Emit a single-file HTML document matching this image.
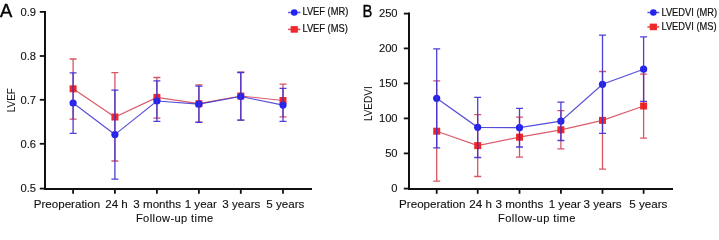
<!DOCTYPE html>
<html><head><meta charset="utf-8"><style>
html,body{margin:0;padding:0;background:#fff;width:719px;height:227px;overflow:hidden}
svg{display:block;will-change:transform}
</style></head><body>
<svg width="719" height="227" viewBox="0 0 719 227" font-family='"Liberation Sans", sans-serif' fill="#111" stroke-width="0.12">
<rect width="719" height="227" fill="#fff"/>
<path d="M45.0 10.9V190.0M44.0 189.0H312" stroke="#111" stroke-width="2" fill="none"/>
<path d="M39.8 11.9H45.0" stroke="#111" stroke-width="1.8"/>
<path d="M39.8 56.0H45.0" stroke="#111" stroke-width="1.8"/>
<path d="M39.8 99.8H45.0" stroke="#111" stroke-width="1.8"/>
<path d="M39.8 143.8H45.0" stroke="#111" stroke-width="1.8"/>
<path d="M39.8 188.6H45.0" stroke="#111" stroke-width="1.8"/>
<path d="M73.1 189.0V193.8" stroke="#111" stroke-width="1.8"/>
<path d="M114.9 189.0V193.8" stroke="#111" stroke-width="1.8"/>
<path d="M156.9 189.0V193.8" stroke="#111" stroke-width="1.8"/>
<path d="M198.9 189.0V193.8" stroke="#111" stroke-width="1.8"/>
<path d="M240.8 189.0V193.8" stroke="#111" stroke-width="1.8"/>
<path d="M283.0 189.0V193.8" stroke="#111" stroke-width="1.8"/>
<text transform="translate(36.1 15.65) scale(0.95 1)" font-size="11.8" text-anchor="end" stroke="#111">0.9</text>
<text transform="translate(36.1 59.75) scale(0.95 1)" font-size="11.8" text-anchor="end" stroke="#111">0.8</text>
<text transform="translate(36.1 103.55) scale(0.95 1)" font-size="11.8" text-anchor="end" stroke="#111">0.7</text>
<text transform="translate(36.1 147.55) scale(0.95 1)" font-size="11.8" text-anchor="end" stroke="#111">0.6</text>
<text transform="translate(36.1 192.35) scale(0.95 1)" font-size="11.8" text-anchor="end" stroke="#111">0.5</text>
<path d="M409.0 12.6V190.0M408.0 189.0H673" stroke="#111" stroke-width="2" fill="none"/>
<path d="M403.8 13.6H409.0" stroke="#111" stroke-width="1.8"/>
<path d="M403.8 48.4H409.0" stroke="#111" stroke-width="1.8"/>
<path d="M403.8 83.4H409.0" stroke="#111" stroke-width="1.8"/>
<path d="M403.8 118.4H409.0" stroke="#111" stroke-width="1.8"/>
<path d="M403.8 153.4H409.0" stroke="#111" stroke-width="1.8"/>
<path d="M403.8 188.6H409.0" stroke="#111" stroke-width="1.8"/>
<path d="M436.7 189.0V193.8" stroke="#111" stroke-width="1.8"/>
<path d="M477.7 189.0V193.8" stroke="#111" stroke-width="1.8"/>
<path d="M519.5 189.0V193.8" stroke="#111" stroke-width="1.8"/>
<path d="M560.9 189.0V193.8" stroke="#111" stroke-width="1.8"/>
<path d="M602.5 189.0V193.8" stroke="#111" stroke-width="1.8"/>
<path d="M643.6 189.0V193.8" stroke="#111" stroke-width="1.8"/>
<text transform="translate(397.6 17.35) scale(0.95 1)" font-size="11.8" text-anchor="end" stroke="#111">250</text>
<text transform="translate(397.6 52.15) scale(0.95 1)" font-size="11.8" text-anchor="end" stroke="#111">200</text>
<text transform="translate(397.6 87.15) scale(0.95 1)" font-size="11.8" text-anchor="end" stroke="#111">150</text>
<text transform="translate(397.6 122.15) scale(0.95 1)" font-size="11.8" text-anchor="end" stroke="#111">100</text>
<text transform="translate(397.6 157.15) scale(0.95 1)" font-size="11.8" text-anchor="end" stroke="#111">50</text>
<text transform="translate(397.6 192.35) scale(0.95 1)" font-size="11.8" text-anchor="end" stroke="#111">0</text>
<text x="66.9" y="207.7" font-size="11.6" text-anchor="middle" stroke="#111" >Preoperation</text>
<text x="116.5" y="207.7" font-size="11.6" text-anchor="middle" stroke="#111" >24 h</text>
<text x="157.2" y="207.7" font-size="11.6" text-anchor="middle" stroke="#111" >3 months</text>
<text x="200.8" y="207.7" font-size="11.6" text-anchor="middle" stroke="#111" >1 year</text>
<text x="241.3" y="207.7" font-size="11.6" text-anchor="middle" stroke="#111" >3 years</text>
<text x="285.3" y="207.7" font-size="11.6" text-anchor="middle" stroke="#111" >5 years</text>
<text x="174.8" y="222.1" font-size="11.1" text-anchor="middle" stroke="#111" letter-spacing="0.4">Follow-up time</text>
<text x="432.3" y="207.7" font-size="11.6" text-anchor="middle" stroke="#111" >Preoperation</text>
<text x="480.6" y="207.7" font-size="11.6" text-anchor="middle" stroke="#111" >24 h</text>
<text x="519.4" y="207.7" font-size="11.6" text-anchor="middle" stroke="#111" >3 months</text>
<text x="564.8" y="207.7" font-size="11.6" text-anchor="middle" stroke="#111" >1 year</text>
<text x="602.6" y="207.7" font-size="11.6" text-anchor="middle" stroke="#111" >3 years</text>
<text x="648.3" y="207.7" font-size="11.6" text-anchor="middle" stroke="#111" >5 years</text>
<text x="536.9" y="222.1" font-size="11.1" text-anchor="middle" stroke="#111" letter-spacing="0.4">Follow-up time</text>
<text transform="translate(14.9 100.2) rotate(-90)" font-size="10" text-anchor="middle">LVEF</text>
<text transform="translate(371.5 103.7) rotate(-90)" font-size="10" text-anchor="middle">LVEDVI</text>
<text transform="translate(0.1 16.7) scale(1.03 1)" font-size="17.9" fill="#000" stroke="#000" stroke-width="0.4">A</text>
<text transform="translate(362.4 16.6) scale(0.87 1)" font-size="17" fill="#000" stroke="#000" stroke-width="0.35">B</text>
<polyline points="73.1,88.8 114.9,117.0 156.9,97.4 198.9,103.7 240.8,96.0 283.0,100.5" fill="none" stroke="#cc1e32" stroke-opacity="0.72" stroke-width="1.2"/>
<rect x="69.6" y="85.3" width="7" height="7" fill="#f02828"/>
<rect x="111.4" y="113.5" width="7" height="7" fill="#f02828"/>
<rect x="153.4" y="93.9" width="7" height="7" fill="#f02828"/>
<rect x="195.4" y="100.2" width="7" height="7" fill="#f02828"/>
<rect x="237.3" y="92.5" width="7" height="7" fill="#f02828"/>
<rect x="279.5" y="97.0" width="7" height="7" fill="#f02828"/>
<path d="M73.1 59.0V119.2M69.6 59.0H76.6M69.6 119.2H76.6" stroke="#c81e32" stroke-opacity="0.75" stroke-width="1.3" fill="none"/>
<path d="M114.9 72.7V161.0M111.4 72.7H118.4M111.4 161.0H118.4" stroke="#c81e32" stroke-opacity="0.75" stroke-width="1.3" fill="none"/>
<path d="M156.9 77.5V118.1M153.4 77.5H160.4M153.4 118.1H160.4" stroke="#c81e32" stroke-opacity="0.75" stroke-width="1.3" fill="none"/>
<path d="M198.9 84.8V122.2M195.4 84.8H202.4M195.4 122.2H202.4" stroke="#c81e32" stroke-opacity="0.75" stroke-width="1.3" fill="none"/>
<path d="M240.8 72.2V120.1M237.3 72.2H244.3M237.3 120.1H244.3" stroke="#c81e32" stroke-opacity="0.75" stroke-width="1.3" fill="none"/>
<path d="M283.0 84.2V116.9M279.5 84.2H286.5M279.5 116.9H286.5" stroke="#c81e32" stroke-opacity="0.75" stroke-width="1.3" fill="none"/>
<polyline points="73.1,103.0 114.9,134.6 156.9,101.0 198.9,104.2 240.8,96.5 283.0,105.1" fill="none" stroke="#3a30d0" stroke-opacity="0.85" stroke-width="1.2"/>
<circle cx="73.1" cy="103.0" r="3.6" fill="#2323f0"/>
<circle cx="114.9" cy="134.6" r="3.6" fill="#2323f0"/>
<circle cx="156.9" cy="101.0" r="3.6" fill="#2323f0"/>
<circle cx="198.9" cy="104.2" r="3.6" fill="#2323f0"/>
<circle cx="240.8" cy="96.5" r="3.6" fill="#2323f0"/>
<circle cx="283.0" cy="105.1" r="3.6" fill="#2323f0"/>
<path d="M73.1 72.9V133.3M69.6 72.9H76.6M69.6 133.3H76.6" stroke="#3c30d4" stroke-opacity="0.92" stroke-width="1.3" fill="none"/>
<path d="M114.9 90.1V179.1M111.4 90.1H118.4M111.4 179.1H118.4" stroke="#3c30d4" stroke-opacity="0.92" stroke-width="1.3" fill="none"/>
<path d="M156.9 80.8V121.4M153.4 80.8H160.4M153.4 121.4H160.4" stroke="#3c30d4" stroke-opacity="0.92" stroke-width="1.3" fill="none"/>
<path d="M198.9 86.1V122.3M195.4 86.1H202.4M195.4 122.3H202.4" stroke="#3c30d4" stroke-opacity="0.92" stroke-width="1.3" fill="none"/>
<path d="M240.8 72.5V120.2M237.3 72.5H244.3M237.3 120.2H244.3" stroke="#3c30d4" stroke-opacity="0.92" stroke-width="1.3" fill="none"/>
<path d="M283.0 88.4V121.4M279.5 88.4H286.5M279.5 121.4H286.5" stroke="#3c30d4" stroke-opacity="0.92" stroke-width="1.3" fill="none"/>
<polyline points="436.7,131.2 477.7,145.6 519.5,137.2 560.9,129.8 602.5,120.4 643.6,106.0" fill="none" stroke="#cc1e32" stroke-opacity="0.72" stroke-width="1.2"/>
<rect x="433.2" y="127.7" width="7" height="7" fill="#f02828"/>
<rect x="474.2" y="142.1" width="7" height="7" fill="#f02828"/>
<rect x="516.0" y="133.7" width="7" height="7" fill="#f02828"/>
<rect x="557.4" y="126.3" width="7" height="7" fill="#f02828"/>
<rect x="599.0" y="116.9" width="7" height="7" fill="#f02828"/>
<rect x="640.1" y="102.5" width="7" height="7" fill="#f02828"/>
<path d="M436.7 80.9V181.1M433.2 80.9H440.2M433.2 181.1H440.2" stroke="#c81e32" stroke-opacity="0.75" stroke-width="1.3" fill="none"/>
<path d="M477.7 114.7V176.5M474.2 114.7H481.2M474.2 176.5H481.2" stroke="#c81e32" stroke-opacity="0.75" stroke-width="1.3" fill="none"/>
<path d="M519.5 117.2V157.2M516.0 117.2H523.0M516.0 157.2H523.0" stroke="#c81e32" stroke-opacity="0.75" stroke-width="1.3" fill="none"/>
<path d="M560.9 110.6V148.9M557.4 110.6H564.4M557.4 148.9H564.4" stroke="#c81e32" stroke-opacity="0.75" stroke-width="1.3" fill="none"/>
<path d="M602.5 71.5V169.1M599.0 71.5H606.0M599.0 169.1H606.0" stroke="#c81e32" stroke-opacity="0.75" stroke-width="1.3" fill="none"/>
<path d="M643.6 74.1V138.1M640.1 74.1H647.1M640.1 138.1H647.1" stroke="#c81e32" stroke-opacity="0.75" stroke-width="1.3" fill="none"/>
<polyline points="436.7,98.3 477.7,127.3 519.5,127.7 560.9,121.2 602.5,84.3 643.6,69.2" fill="none" stroke="#3a30d0" stroke-opacity="0.85" stroke-width="1.2"/>
<circle cx="436.7" cy="98.3" r="3.6" fill="#2323f0"/>
<circle cx="477.7" cy="127.3" r="3.6" fill="#2323f0"/>
<circle cx="519.5" cy="127.7" r="3.6" fill="#2323f0"/>
<circle cx="560.9" cy="121.2" r="3.6" fill="#2323f0"/>
<circle cx="602.5" cy="84.3" r="3.6" fill="#2323f0"/>
<circle cx="643.6" cy="69.2" r="3.6" fill="#2323f0"/>
<path d="M436.7 48.8V147.8M433.2 48.8H440.2M433.2 147.8H440.2" stroke="#3c30d4" stroke-opacity="0.92" stroke-width="1.3" fill="none"/>
<path d="M477.7 97.4V157.5M474.2 97.4H481.2M474.2 157.5H481.2" stroke="#3c30d4" stroke-opacity="0.92" stroke-width="1.3" fill="none"/>
<path d="M519.5 108.3V147.0M516.0 108.3H523.0M516.0 147.0H523.0" stroke="#3c30d4" stroke-opacity="0.92" stroke-width="1.3" fill="none"/>
<path d="M560.9 102.1V140.5M557.4 102.1H564.4M557.4 140.5H564.4" stroke="#3c30d4" stroke-opacity="0.92" stroke-width="1.3" fill="none"/>
<path d="M602.5 35.2V133.3M599.0 35.2H606.0M599.0 133.3H606.0" stroke="#3c30d4" stroke-opacity="0.92" stroke-width="1.3" fill="none"/>
<path d="M643.6 36.9V101.4M640.1 36.9H647.1M640.1 101.4H647.1" stroke="#3c30d4" stroke-opacity="0.92" stroke-width="1.3" fill="none"/>
<path d="M288.1 12.5H300.4" stroke="#3a30d0" stroke-opacity="0.8" stroke-width="1.5"/>
<circle cx="294.25" cy="12.5" r="3.3" fill="#2323f0"/>
<text transform="translate(302.4 14.6) scale(0.905 1)" font-size="10.3" stroke="#111" stroke-width="0.2">LVEF (MR)</text>
<path d="M288.1 29.4H300.4" stroke="#cc1e32" stroke-opacity="0.8" stroke-width="1.5"/>
<rect x="290.65" y="26.099999999999998" width="7.2" height="6.6" fill="#f02828"/>
<text transform="translate(302.4 31.8) scale(0.905 1)" font-size="10.3" stroke="#111" stroke-width="0.2">LVEF (MS)</text>
<path d="M647.4 12.5H659.3" stroke="#3a30d0" stroke-opacity="0.8" stroke-width="1.5"/>
<circle cx="653.3499999999999" cy="12.5" r="3.3" fill="#2323f0"/>
<text transform="translate(661.4 15.7) scale(0.905 1)" font-size="10.3" stroke="#111" stroke-width="0.2">LVEDVI (MR)</text>
<path d="M647.4 26.9H659.3" stroke="#cc1e32" stroke-opacity="0.8" stroke-width="1.5"/>
<rect x="649.7499999999999" y="23.599999999999998" width="7.2" height="6.6" fill="#f02828"/>
<text transform="translate(661.4 30.0) scale(0.905 1)" font-size="10.3" stroke="#111" stroke-width="0.2">LVEDVI (MS)</text>
</svg>
</body></html>
